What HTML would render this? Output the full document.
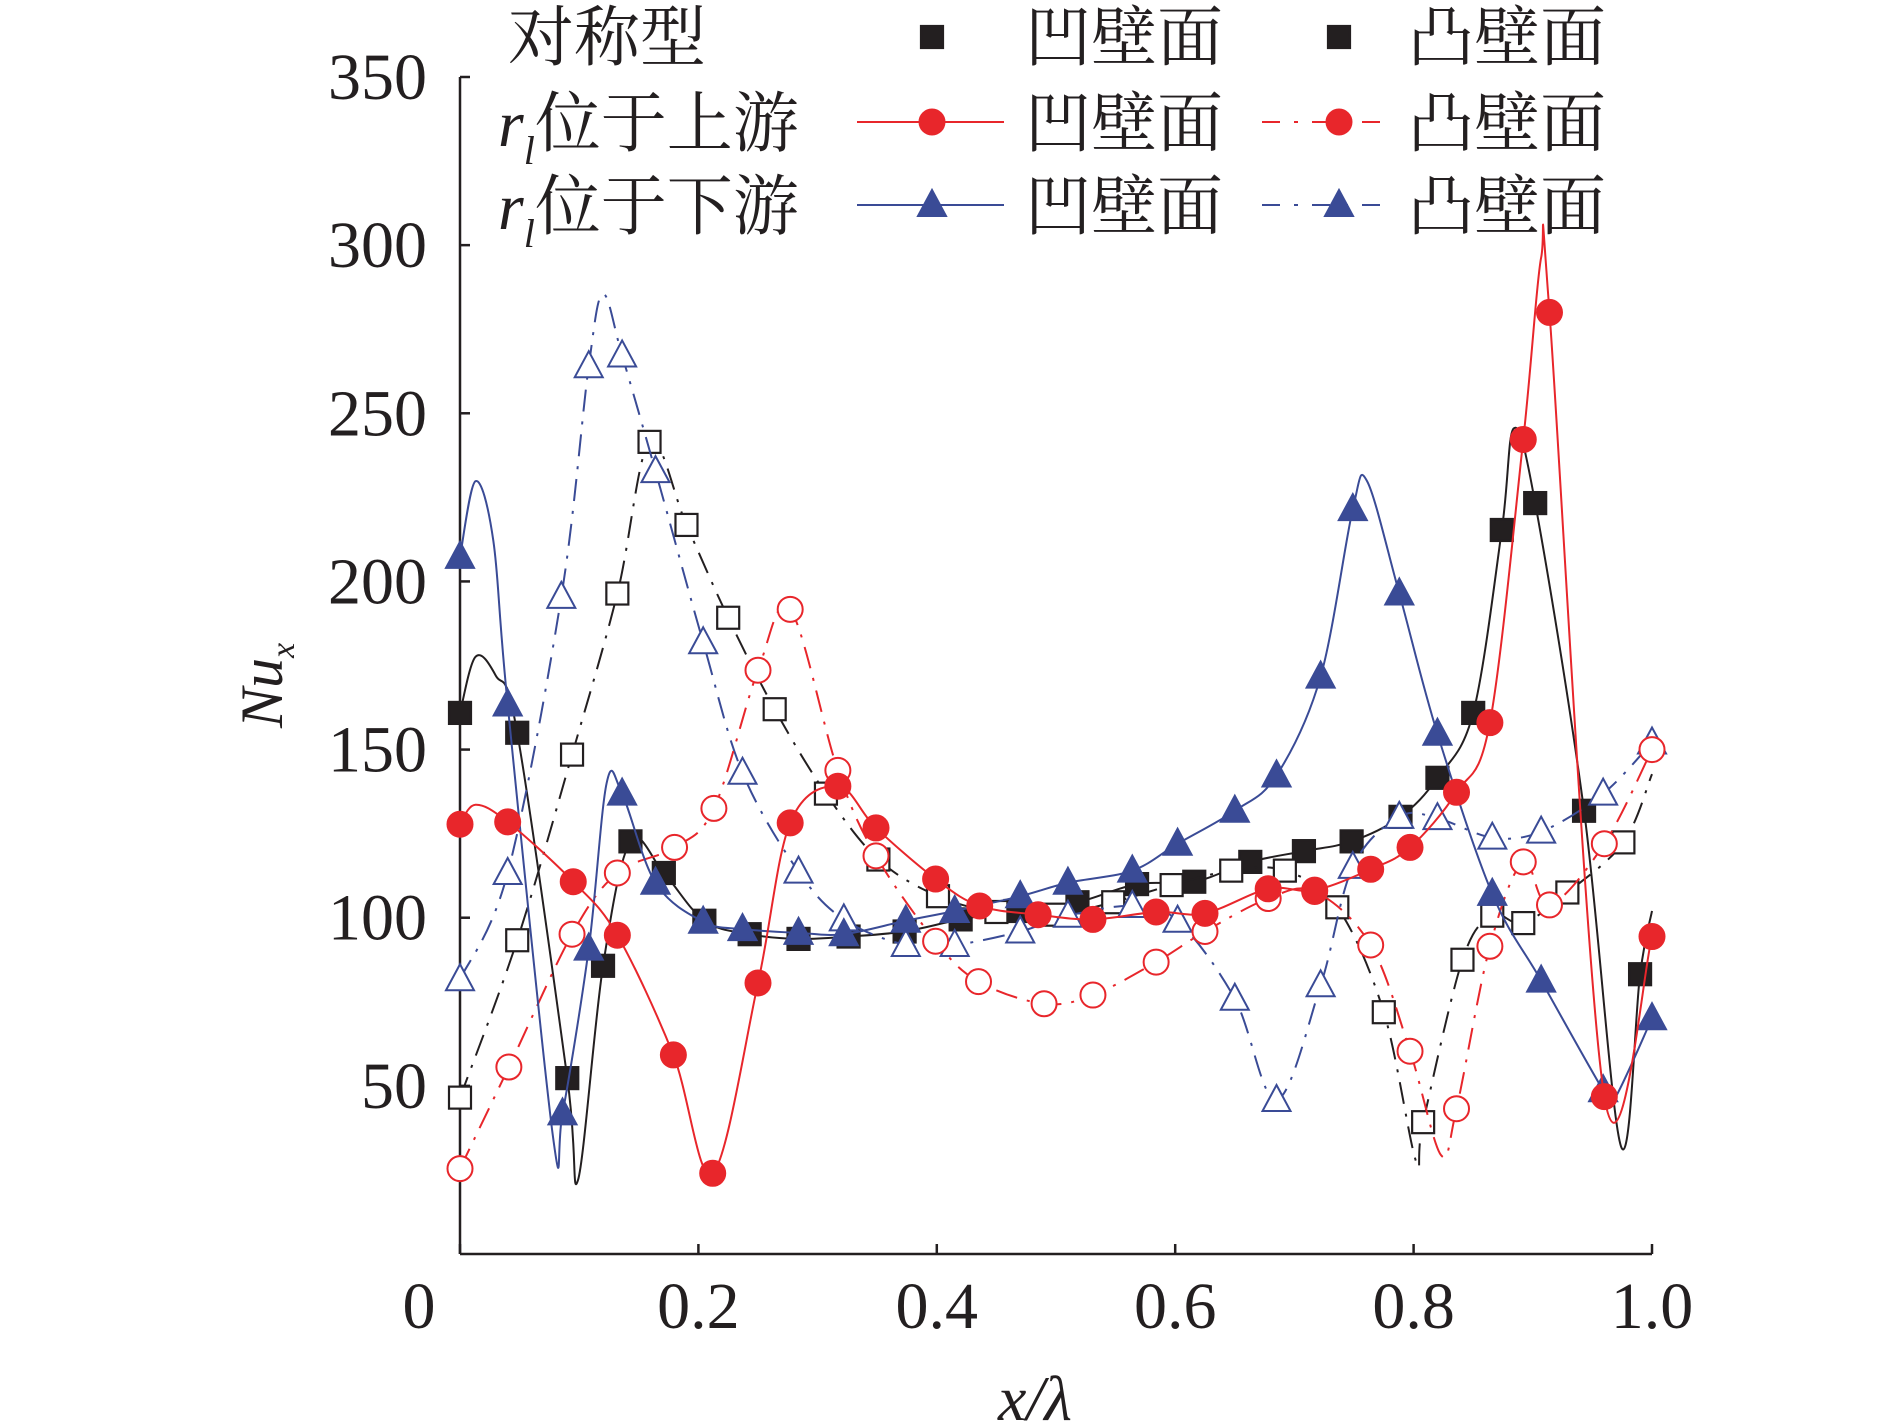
<!DOCTYPE html>
<html><head><meta charset="utf-8"><style>
html,body{margin:0;padding:0;background:#fff}
svg{display:block}
text{font-family:"Liberation Serif","Noto Serif CJK SC",serif;fill:#231f20}
.cjk{font-family:"Liberation Serif","Noto Serif CJK SC","Noto Sans CJK SC",serif}
</style></head><body>
<svg id="chart" width="1890" height="1423" viewBox="0 0 1890 1423" xmlns="http://www.w3.org/2000/svg">
<g id="axes"></g>
<g id="series"></g>
<g id="legend"></g>
</svg>
<script>
// ---- data ----
const xTicks = [0, 0.2, 0.4, 0.6, 0.8, 1.0];
const xTickLabels = ["0", "0.2", "0.4", "0.6", "0.8", "1.0"];
const yTicks = [50, 100, 150, 200, 250, 300, 350];
const yTickLabels = ["50", "100", "150", "200", "250", "300", "350"];

// symmetric concave
const symConcaveX = [0,0.048,0.090,0.120,0.143,0.171,0.205,0.243,0.284,0.326,0.373,0.420,0.466,0.518,0.568,0.616,0.663,0.708,0.748,0.789,0.820,0.850,0.874,0.902,0.943,0.990];
const symConcaveY = [160.9,155,52.3,85.7,122.7,113.3,99.1,95.1,93.7,94.4,95.9,99.5,102,104.6,110,110.7,116.6,119.8,122.7,130,141.6,160.9,215.3,223.3,131.8,83.2];
const symConcaveCurveX = [0.013,0.03,0.099,0.884,0.974,1.0];
const symConcaveCurveY = [177.6,172,22,245.5,32,102];
// symmetric convex
const symConvexX = [0,0.048,0.094,0.132,0.159,0.190,0.225,0.264,0.307,0.351,0.401,0.450,0.499,0.548,0.597,0.647,0.692,0.736,0.775,0.808,0.841,0.866,0.892,0.929,0.976];
const symConvexY = [46.5,93.3,148.5,196.4,241.5,216.8,189.2,162,136.9,117.3,106.4,101.7,100.9,104.6,109.7,114,114,103.1,71.9,39.2,87.5,100.6,98.4,107.5,122.4];
const symConvexCurveX = [0.802,1.0];
const symConvexCurveY = [27.6,142.7];
// upstream concave
const upConcaveX = [0,0.040,0.095,0.132,0.179,0.212,0.25,0.277,0.317,0.349,0.399,0.436,0.485,0.531,0.584,0.625,0.678,0.717,0.764,0.797,0.836,0.864,0.892,0.914,0.960,1.0];
const upConcaveY = [127.8,128.5,110.7,94.8,59.2,24,80.6,128.2,139.1,126.7,111.5,103.5,100.9,99.5,101.7,101.3,108.6,108.2,114.4,120.9,137.3,158,242.2,280,46.8,94.4];
const upConcaveCurveX = [0.013,0.907];
const upConcaveCurveY = [133.6,296.3];
// upstream convex
const upConvexX = [0,0.041,0.094,0.132,0.180,0.213,0.25,0.277,0.317,0.349,0.399,0.435,0.490,0.531,0.584,0.625,0.678,0.717,0.764,0.797,0.836,0.864,0.892,0.914,0.960,1.0];
const upConvexY = [25.4,55.6,95.1,113.3,120.9,132.5,173.6,191.7,143.8,118.4,93,81,74.4,77,86.8,95.9,105.7,107.8,91.9,60.3,43.2,91.5,116.6,103.8,122,150];
const upConvexCurveX = [0.823];
const upConvexCurveY = [29.4];
// downstream concave
const downConcaveX = [0,0.040,0.086,0.108,0.136,0.164,0.204,0.237,0.284,0.322,0.374,0.415,0.470,0.510,0.564,0.602,0.650,0.685,0.722,0.749,0.788,0.820,0.866,0.907,0.959,1.0];
const downConcaveY = [207.3,163.4,41.8,90.8,136.9,110.4,98.8,96.6,95.5,95.1,99.1,102,106.4,110.4,114,122,131.8,142.3,171.7,221.5,196.4,154.7,107.1,81.3,48.7,70.1];
const downConcaveCurveX = [0.013,0.028,0.078,0.123,0.761,0.968];
const downConcaveCurveY = [229.8,212,34.9,140,229.8,45.8];
// downstream convex
const downConvexX = [0,0.04,0.085,0.108,0.136,0.164,0.204,0.237,0.284,0.322,0.374,0.415,0.470,0.510,0.564,0.602,0.650,0.685,0.722,0.749,0.788,0.820,0.866,0.907,0.959,1.0];
const downConvexY = [81.7,113.3,195.4,264,267.2,232.8,181.9,143.1,113.7,99.5,91.9,91.9,95.9,100.6,103.5,99.1,75.9,45.8,79.9,115.1,130,129.6,123.8,125.6,136.9,152.1];
const downConvexCurveX = [0.120];
const downConvexCurveY = [285.4];

// ---- layout ----
const X0=460, X1=1652, Y0=1254, Y350=77;
const sx = v => X0 + v*(X1-X0);
const sy = v => Y0 - v*(Y0-Y350)/350;
const NS="http://www.w3.org/2000/svg";
function mk(tag, attrs, parent){const e=document.createElementNS(NS,tag);for(const k in attrs)e.setAttribute(k,attrs[k]);parent.appendChild(e);return e;}

const axes=document.getElementById('axes');
let a=mk('line',{x1:X0,y1:Y350,x2:X0,y2:Y0,stroke:'#231f20','stroke-width':2.5},axes);


a=mk('line',{x1:X0,y1:Y0,x2:X1,y2:Y0,stroke:'#231f20','stroke-width':2.5},axes);


yTicks.forEach((v,i)=>{
  const t=mk('line',{x1:X0,y1:sy(v),x2:X0+10,y2:sy(v),stroke:'#231f20','stroke-width':2.5},axes);
  
  
  const l=mk('text',{x:X0-33,y:sy(v)+22,'text-anchor':'end','font-size':66},axes);
  l.textContent=yTickLabels[i];
  
  
});
xTicks.forEach((v,i)=>{
  const t=mk('line',{x1:sx(v),y1:Y0,x2:sx(v),y2:Y0-10,stroke:'#231f20','stroke-width':2.5},axes);
  
  
  const l=mk('text',{x:i===0?sx(v)-41:sx(v),y:1328,'text-anchor':'middle','font-size':66},axes);
  l.textContent=xTickLabels[i];
  
  
});
let xt=mk('text',{x:1035,y:1420,'text-anchor':'middle','font-size':64,'font-style':'italic'},axes);
xt.textContent='x/λ';


let yt=mk('text',{x:0,y:0,'font-size':60,'font-style':'italic',transform:'translate(282,728) rotate(-90)'},axes);
yt.innerHTML='Nu<tspan font-size="34" dy="12">x</tspan>';



function smoothPath(pts){
  let d=`M${pts[0][0]},${pts[0][1]}`;
  for(let i=0;i<pts.length-1;i++){
    const p0=pts[Math.max(0,i-1)],p1=pts[i],p2=pts[i+1],p3=pts[Math.min(pts.length-1,i+2)];
    const c1=[p1[0]+(p2[0]-p0[0])/6,p1[1]+(p2[1]-p0[1])/6];
    const c2=[p2[0]-(p3[0]-p1[0])/6,p2[1]-(p3[1]-p1[1])/6];
    d+=` C${c1[0]},${c1[1]} ${c2[0]},${c2[1]} ${p2[0]},${p2[1]}`;
  }
  return d;
}
function marker(g,type,filled,color,x,y){
  let e;
  const fill=filled?color:'#fff';
  if(type==='sq') e=mk('rect',{x:x-11,y:y-11,width:22,height:22,fill:filled?'#231f20':'#fff',stroke:'#231f20','stroke-width':2.2},g);
  else if(type==='ci') e=mk('circle',{cx:x,cy:y,r:12.5,fill:fill,stroke:color,'stroke-width':2},g);
  else e=mk('polygon',{points:`${x},${y-15} ${x+14},${y+11} ${x-14},${y+11}`,fill:fill,stroke:color,'stroke-width':2},g);
  return e;
}
const seriesG=document.getElementById('series');
function drawSeries(name,xs,ys,cx,cy,color,dash,type,filled){
  const g=mk('g',{},seriesG);
  
  
  const pts=xs.map((x,i)=>[x,ys[i]]).concat(cx.map((x,i)=>[x,cy[i]])).sort((p,q)=>p[0]-q[0]).map(p=>[sx(p[0]),sy(p[1])]);
  const p=mk('path',{d:smoothPath(pts),fill:'none',stroke:color,'stroke-width':2,'stroke-dasharray':dash},g);
  
  
  xs.forEach((x,i)=>{
    const m=marker(g,type,filled,color,sx(x),sy(ys[i]));
    
    
  });
}
const RED='#e8262b', BLUE='#3a4b96', BLK='#231f20', DD='22 10 3 10';
drawSeries('symmetric-concave',symConcaveX,symConcaveY,symConcaveCurveX,symConcaveCurveY,BLK,'none','sq',true);
drawSeries('symmetric-convex',symConvexX,symConvexY,symConvexCurveX,symConvexCurveY,BLK,DD,'sq',false);
drawSeries('downstream-convex',downConvexX,downConvexY,downConvexCurveX,downConvexCurveY,BLUE,DD,'tri',false);
drawSeries('upstream-convex',upConvexX,upConvexY,upConvexCurveX,upConvexCurveY,RED,DD,'ci',false);
drawSeries('downstream-concave',downConcaveX,downConcaveY,downConcaveCurveX,downConcaveCurveY,BLUE,'none','tri',true);
drawSeries('upstream-concave',upConcaveX,upConcaveY,upConcaveCurveX,upConcaveCurveY,RED,'none','ci',true);

// legend
const lg=document.getElementById('legend');
function txt(x,y,s,name,extra){const t=mk('text',Object.assign({x:x,y:y,'font-size':66,class:'cjk'},extra||{}),lg);t.innerHTML=s;return t;}
const rows=[60,146,229];
txt(508,rows[0],'对称型','legend-symmetric-label');
txt(498,rows[1],'<tspan font-style="italic">r</tspan><tspan font-style="italic" font-size="40" dy="18">l</tspan><tspan dy="-18">位于上游</tspan>','legend-upstream-label');
txt(498,rows[2],'<tspan font-style="italic">r</tspan><tspan font-style="italic" font-size="40" dy="18">l</tspan><tspan dy="-18">位于下游</tspan>','legend-downstream-label');
const rowC=[37,122,205];
const legendDefs=[[BLK,'sq'],[RED,'ci'],[BLUE,'tri']];
legendDefs.forEach((d,r)=>{
  const y=rowC[r];
  if(r>0){
    const l1=mk('line',{x1:857,y1:y,x2:1004,y2:y,stroke:d[0],'stroke-width':2},lg);
    
    
    const l2=mk('line',{x1:1262,y1:y,x2:1380,y2:y,stroke:d[0],'stroke-width':2,'stroke-dasharray':'18 14 4 14'},lg);
    
    
  }
  const m1=marker(lg,d[1],true,d[0],932,y);
  
  
  const m2=marker(lg,d[1],true,d[0],1339,y);
  
  
  txt(1025,rows[r],'凹壁面','legend-concave-text');
  txt(1408,rows[r],'凸壁面','legend-convex-text');
});
</script>
</body></html>
